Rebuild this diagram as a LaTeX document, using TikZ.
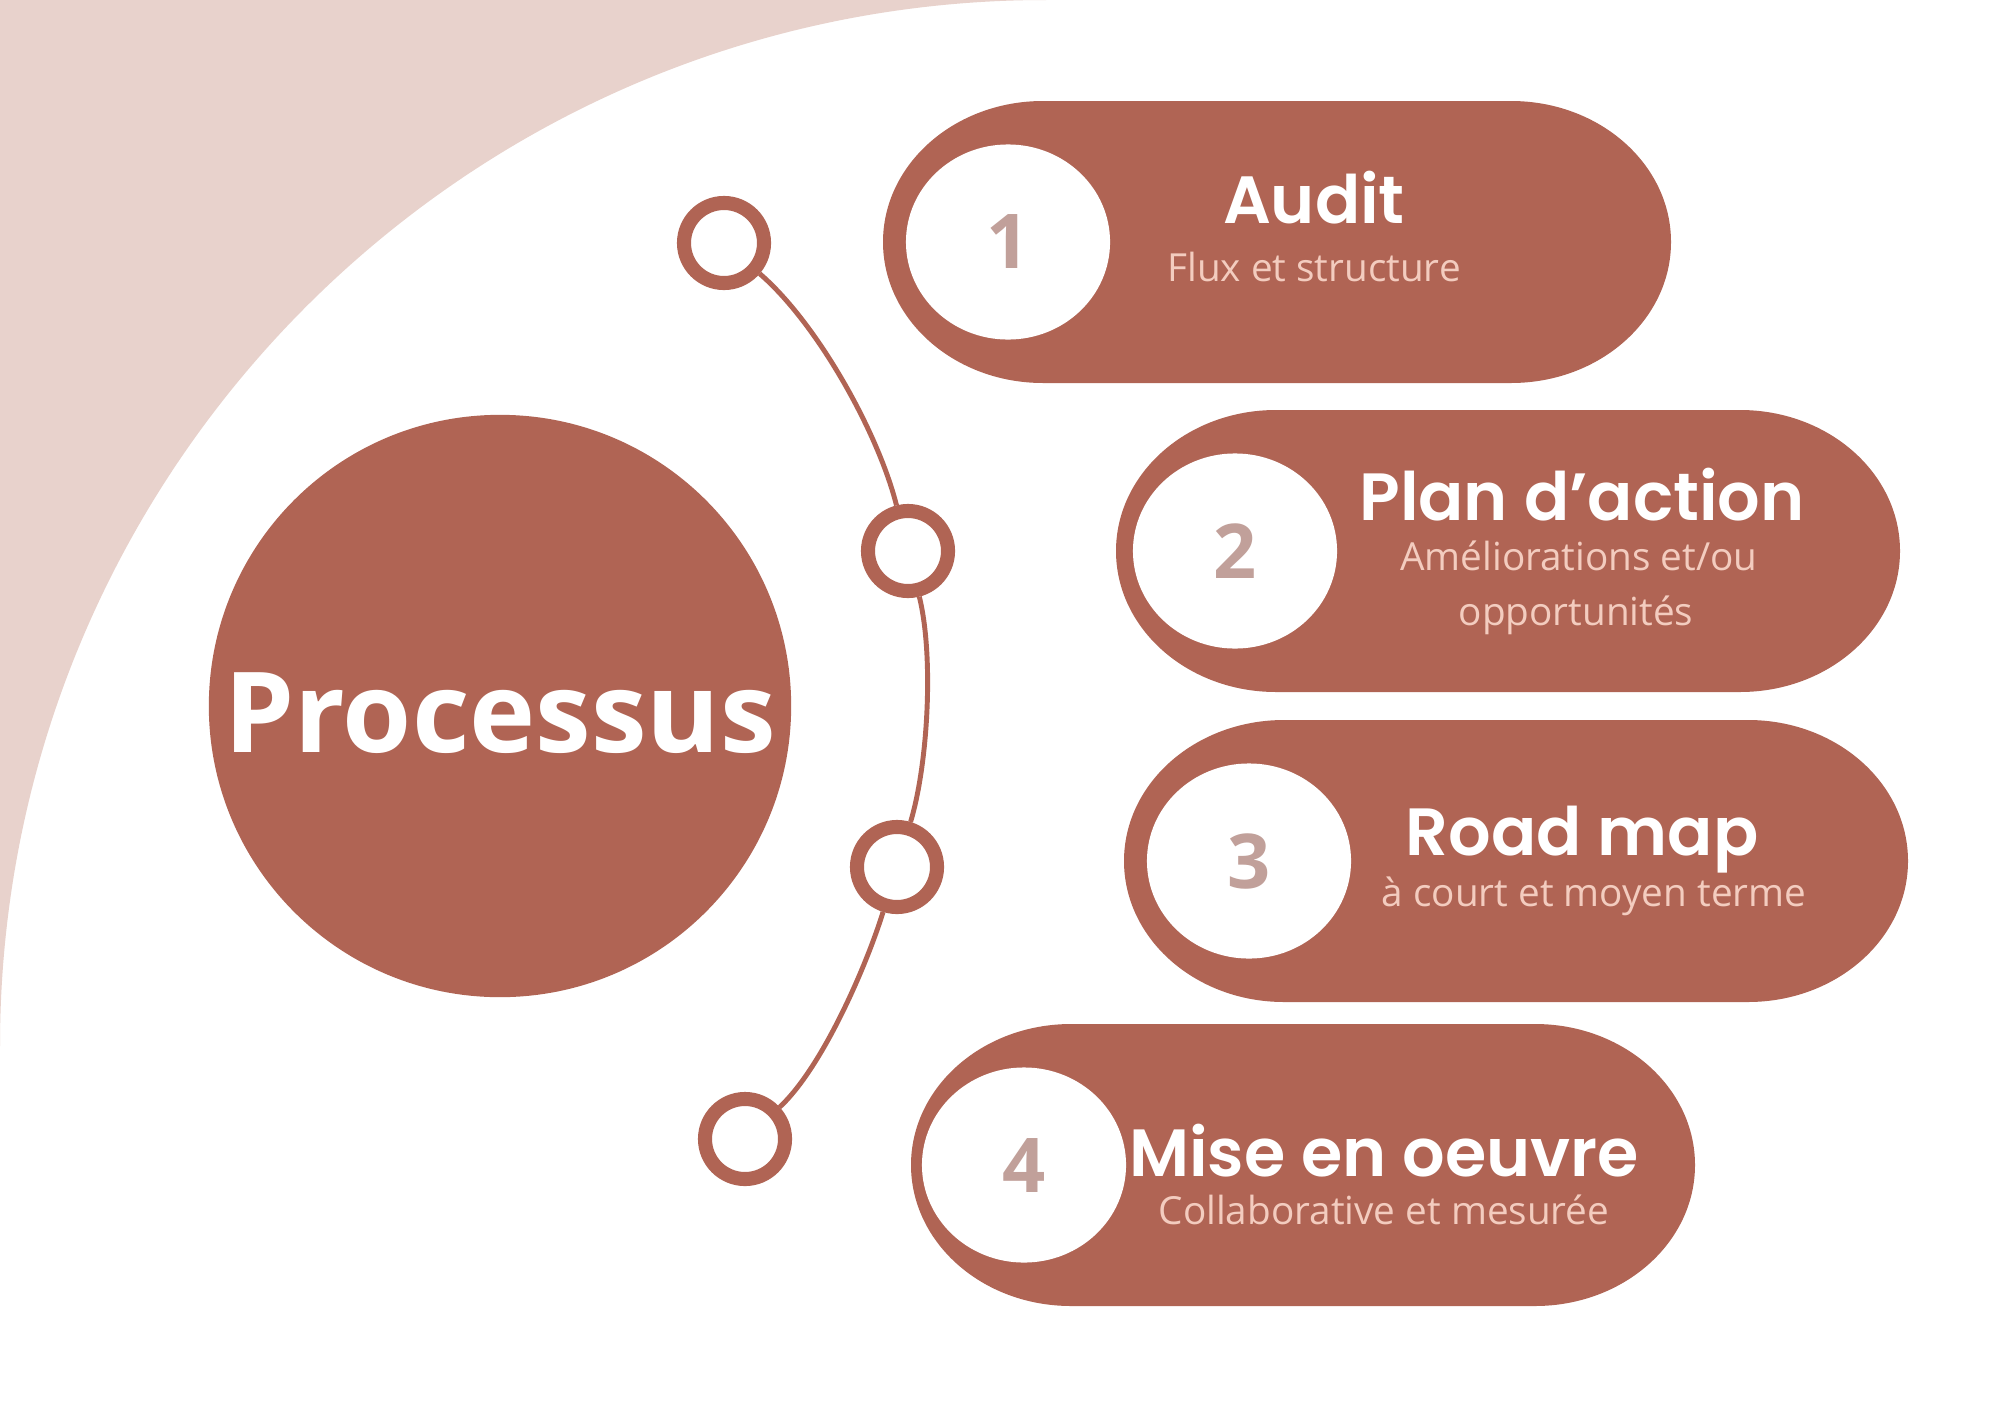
\documentclass[tikz,border=0pt]{standalone}
\usepackage{fontspec}
\setmainfont{Open Sans}
\newfontfamily\quickfont{Poppins}[BoldFont={Poppins SemiBold}]
\usetikzlibrary{positioning, shapes.geometric}
\definecolor{terra}{HTML}{B06454}
\definecolor{blush}{HTML}{E8D2CC}
\definecolor{numgrey}{HTML}{C1A09A}
\definecolor{subpink}{HTML}{F3CCBF}

\begin{document}
\begin{tikzpicture}[x=0.01cm, y=-0.01cm,
    numdisc/.style={ellipse, fill=white, minimum width=2.04cm, minimum height=1.95cm, inner sep=0pt, text=numgrey, font=\bfseries\fontsize{21.5}{22}\selectfont},
    steptitle/.style={text=white, inner sep=0pt, anchor=base, font=\quickfont\bfseries\fontsize{19}{23}\selectfont},
    stepsub/.style={text=subpink, inner sep=0pt, anchor=base, font=\fontsize{11}{13}\selectfont},
    ring/.style={circle, draw=terra, line width=4pt, fill=white, minimum size=0.8cm, inner sep=0pt},
    link/.style={draw=terra, line width=1.4pt},
    bigdisc/.style={circle, fill=terra, minimum size=5.82cm, inner sep=0pt, text=white, text height=0.92cm, text depth=0pt, font=\bfseries\fontsize{31.8}{32}\selectfont}]

    % Page and background corner
    \useasboundingbox (0,0) rectangle (2000,1415);
    \fill[white] (0,0) rectangle (2000,1415);
    \fill[blush] (0,0) -- (1046,0) arc[start angle=270, end angle=180, radius=1046] -- cycle;

    % Central disc
    \node[bigdisc] (proc) at (500,706) {Processus};

    % Steps: pill, number disc and title
    \foreach \i/\px/\py/\hw/\nx/\tx/\ty/\tit in {1/1277/242/394/1008/1314/223/Audit, 2/1508/551/392/1235/1582/520/Plan d’action, 3/1516/861/392/1249/1582/855/Road map, 4/1303/1165/392/1024/1384/1176/Mise en oeuvre} {
      \fill[terra] (\px-\hw+160,\py-141) -- (\px+\hw-160,\py-141)
        arc[start angle=-90, end angle=90, x radius=160, y radius=141]
        -- (\px-\hw+160,\py+141)
        arc[start angle=90, end angle=270, x radius=160, y radius=141] -- cycle;
      \node[numdisc] (n\i) at (\nx,\py) {\i};
      \node[steptitle] (t\i) at (\tx,\ty) {\tit};
    }

    % Sub-titles
    \node[stepsub] (s1) at (1314,281) {Flux et structure};
    \node[stepsub] (s2) at (1579,570) {Améliorations et/ou};
    \node[stepsub] (s2b) at (1576,625) {opportunités};
    \node[stepsub] (s3) at (1594,906) {à court et moyen terme};
    \node[stepsub] (s4) at (1384,1224) {Collaborative et mesurée};

    % Rings on the arc
    \foreach \i/\x/\y in {1/724/243, 2/908/551, 3/897/867, 4/745/1139}
      \node[ring] (r\i) at (\x,\y) {};
    \draw[link] (r1) .. controls (817,323) and (878,432) .. (r2)
                     .. controls (934,656) and (928,764) .. (r3)
                     .. controls (866,967) and (822,1068) .. (r4);

\end{tikzpicture}
\end{document}
